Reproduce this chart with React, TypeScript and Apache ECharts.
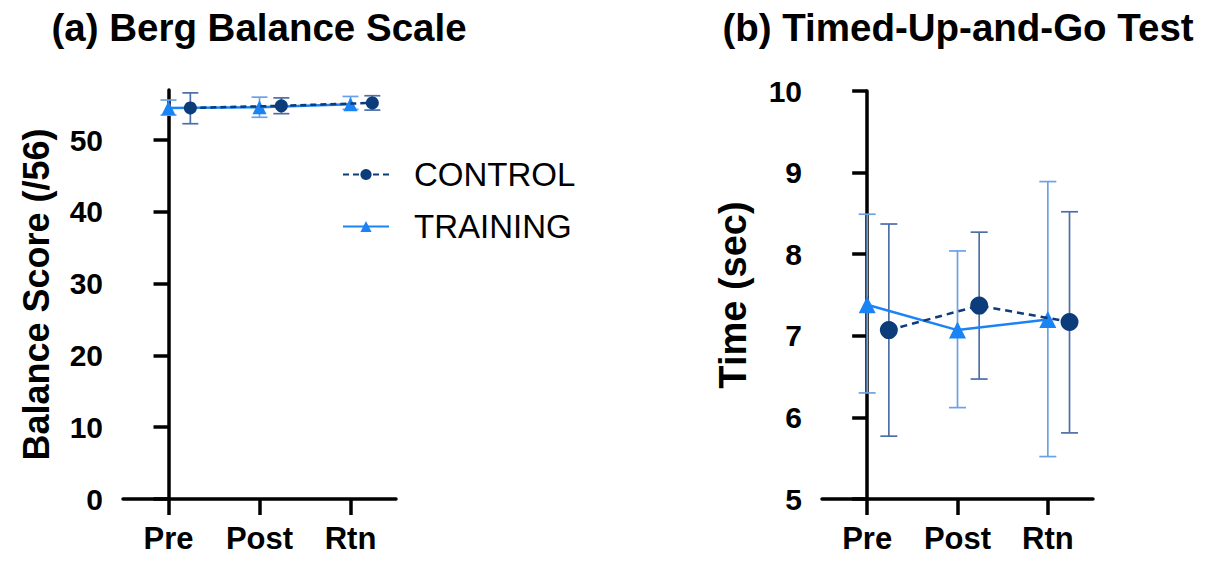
import React, { useEffect, useRef } from "react";
import * as echarts from "echarts";

const categories = ["Pre", "Post", "Rtn"];

// (a) Berg Balance Scale
const bergControlMean = [54.5, 54.8, 55.2];
const bergControlLow = [52.3, 53.7, 54.2];
const bergControlHigh = [56.6, 55.9, 56.2];
const bergTrainingMean = [54.5, 54.6, 55.0];
const bergTrainingLow = [53.5, 53.2, 54.3];
const bergTrainingHigh = [55.6, 56.0, 56.1];
const bergTicks = [0, 10, 20, 30, 40, 50];

// (b) Timed-Up-and-Go Test
const tugControlMean = [7.07, 7.37, 7.17];
const tugControlLow = [5.77, 6.47, 5.81];
const tugControlHigh = [8.37, 8.27, 8.52];
const tugTrainingMean = [7.38, 7.07, 7.20];
const tugTrainingLow = [6.30, 6.12, 5.52];
const tugTrainingHigh = [8.49, 8.04, 8.89];
const tugTicks = [5, 6, 7, 8, 9, 10];

const DODGE = 0.24;
const FONT = "'Liberation Sans', Arial, Helvetica, sans-serif";
const CONTROL_COLOR = "#0c3c7a";
const TRAINING_COLOR = "#1a84f5";
const CONTROL_ERR = "#4d6ea6";
const TRAINING_ERR = "#6aa2e6";

function pts(mean: number[], off: number) {
  return mean.map((v, i) => [i + off, v]);
}
function errs(low: number[], high: number[], off: number) {
  return low.map((l, i) => [i + off, l, high[i]]);
}

function errRender(color: string, capHalf: number) {
  return (params: any, api: any) => {
    const x = api.value(0);
    const lo = api.value(1);
    const hi = api.value(2);
    const t = api.coord([x, hi]);
    const b = api.coord([x, lo]);
    const style = { stroke: color, lineWidth: 1.7, fill: "none" };
    return {
      type: "group",
      children: [
        { type: "line", shape: { x1: t[0], y1: t[1], x2: b[0], y2: b[1] }, style },
        { type: "line", shape: { x1: t[0] - capHalf, y1: t[1], x2: t[0] + capHalf, y2: t[1] }, style },
        { type: "line", shape: { x1: b[0] - capHalf, y1: b[1], x2: b[0] + capHalf, y2: b[1] }, style },
      ],
    };
  };
}

function xAxis(gridIndex: number) {
  return {
    type: "value",
    gridIndex,
    min: -0.5,
    max: 2.5,
    splitLine: { show: false },
    axisLine: { show: true, lineStyle: { color: "#000", width: 3.5 } },
    axisTick: { show: true, length: 16, lineStyle: { color: "#000", width: 3.5 }, customValues: [0, 1, 2] },
    axisLabel: {
      customValues: [0, 1, 2],
      formatter: (v: number) => categories[Math.round(v)] ?? "",
      color: "#000",
      fontSize: 31,
      fontWeight: "bold",
      fontFamily: FONT,
      margin: 24,
    },
  };
}

function yAxis(gridIndex: number, min: number, max: number, ticks: number[], name: string, nameSize: number, nameGap: number) {
  return {
    type: "value",
    gridIndex,
    min,
    max,
    name,
    nameLocation: "middle",
    nameRotate: 90,
    nameGap,
    nameTextStyle: { color: "#000", fontSize: nameSize, fontWeight: "bold", fontFamily: FONT },
    splitLine: { show: false },
    axisLine: { show: true, lineStyle: { color: "#000", width: 3.5 } },
    axisTick: { show: true, length: 15, lineStyle: { color: "#000", width: 3.5 }, customValues: ticks },
    axisLabel: {
      customValues: ticks,
      color: "#000",
      fontSize: 30,
      fontWeight: "bold",
      fontFamily: FONT,
      margin: 20,
    },
  };
}

export default function App() {
  const ref = useRef<HTMLDivElement>(null);
  useEffect(() => {
    document.body.style.margin = "0";
    if (!ref.current) return;
    const chart = echarts.init(ref.current, null, { renderer: "svg" });
    chart.setOption({
      animation: false,
      backgroundColor: "#fff",
      title: [
        {
          text: "(a) Berg Balance Scale",
          left: 254,
          textAlign: "center",
          top: 3,
          textStyle: { fontSize: 38.5, fontWeight: "bold", color: "#000", fontFamily: FONT },
        },
        {
          text: "(b) Timed-Up-and-Go Test",
          left: 953,
          textAlign: "center",
          top: 3,
          textStyle: { fontSize: 38.5, fontWeight: "bold", color: "#000", fontFamily: FONT },
        },
      ],
      legend: {
        data: ["CONTROL", "TRAINING"],
        orient: "vertical",
        left: 337,
        top: 153,
        itemWidth: 46,
        itemHeight: 14,
        itemGap: 19,
        textStyle: { fontSize: 33, color: "#000", fontFamily: FONT, padding: [0, 0, 0, 20] },
      },
      grid: [
        { left: 123, top: 90, width: 273, height: 409 },
        { left: 822, top: 91, width: 271, height: 408 },
      ],
      xAxis: [xAxis(0), xAxis(1)],
      yAxis: [
        yAxis(0, 0, 57, bergTicks, "Balance Score (/56)", 36, 69),
        yAxis(1, 5, 10, tugTicks, "Time (sec)", 38, 70),
      ],
      series: [
        {
          name: "CONTROL err a",
          type: "custom",
          xAxisIndex: 0,
          yAxisIndex: 0,
          renderItem: errRender(CONTROL_ERR, 8),
          data: errs(bergControlLow, bergControlHigh, DODGE),
          encode: { x: 0, y: [1, 2] },
          z: 1,
        },
        {
          name: "TRAINING err a",
          type: "custom",
          xAxisIndex: 0,
          yAxisIndex: 0,
          renderItem: errRender(TRAINING_ERR, 8),
          data: errs(bergTrainingLow, bergTrainingHigh, 0),
          encode: { x: 0, y: [1, 2] },
          z: 1,
        },
        {
          name: "CONTROL err b",
          type: "custom",
          xAxisIndex: 1,
          yAxisIndex: 1,
          renderItem: errRender(CONTROL_ERR, 8.5),
          data: errs(tugControlLow, tugControlHigh, DODGE),
          encode: { x: 0, y: [1, 2] },
          z: 1,
        },
        {
          name: "TRAINING err b",
          type: "custom",
          xAxisIndex: 1,
          yAxisIndex: 1,
          renderItem: errRender(TRAINING_ERR, 8.5),
          data: errs(tugTrainingLow, tugTrainingHigh, 0),
          encode: { x: 0, y: [1, 2] },
          z: 1,
        },
        {
          name: "CONTROL",
          type: "line",
          xAxisIndex: 0,
          yAxisIndex: 0,
          data: pts(bergControlMean, DODGE),
          symbol: "circle",
          symbolSize: 13,
          color: CONTROL_COLOR,
          itemStyle: { color: CONTROL_COLOR },
          lineStyle: { color: CONTROL_COLOR, width: 2.5, type: [6, 4] },
          z: 3,
        },
        {
          name: "TRAINING",
          type: "line",
          xAxisIndex: 0,
          yAxisIndex: 0,
          data: pts(bergTrainingMean, 0),
          symbol: "triangle",
          symbolSize: 14,
          color: TRAINING_COLOR,
          itemStyle: { color: TRAINING_COLOR },
          lineStyle: { color: TRAINING_COLOR, width: 2.5 },
          z: 2,
        },
        {
          name: "CONTROL",
          type: "line",
          xAxisIndex: 1,
          yAxisIndex: 1,
          data: pts(tugControlMean, DODGE),
          symbol: "circle",
          symbolSize: 18,
          color: CONTROL_COLOR,
          itemStyle: { color: CONTROL_COLOR },
          lineStyle: { color: CONTROL_COLOR, width: 2.5, type: [7, 5] },
          z: 3,
        },
        {
          name: "TRAINING",
          type: "line",
          xAxisIndex: 1,
          yAxisIndex: 1,
          data: pts(tugTrainingMean, 0),
          symbol: "triangle",
          symbolSize: 17,
          color: TRAINING_COLOR,
          itemStyle: { color: TRAINING_COLOR },
          lineStyle: { color: TRAINING_COLOR, width: 2.5 },
          z: 2,
        },
      ],
    });
    return () => chart.dispose();
  }, []);
  return <div ref={ref} style={{ width: 1209, height: 561 }} />;
}
